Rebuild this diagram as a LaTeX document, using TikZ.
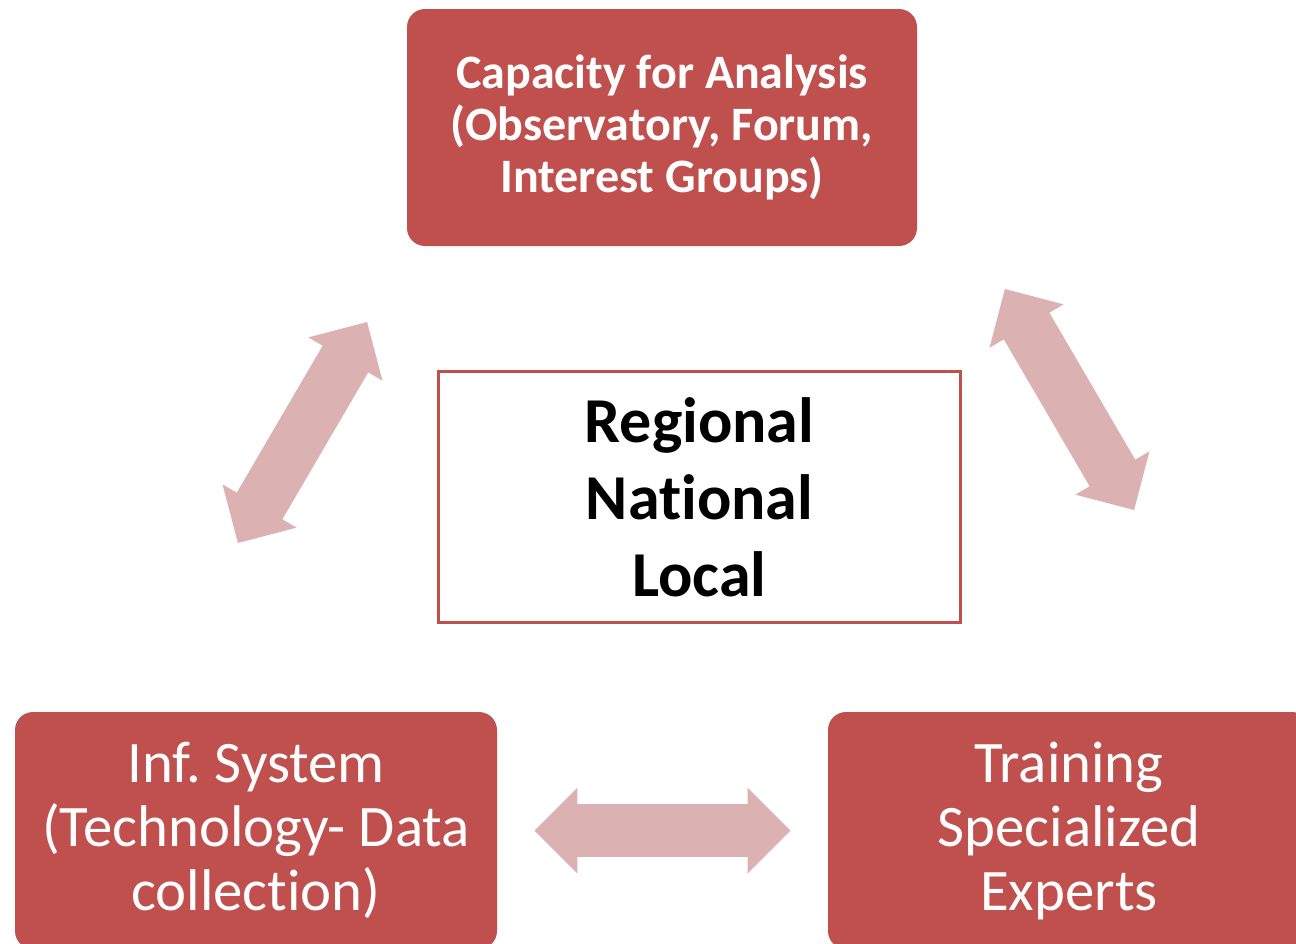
\documentclass[tikz,border=0pt]{standalone}
\usepackage{fontspec}
\setmainfont{Carlito}[Ligatures=NoCommon]
\usetikzlibrary{shapes.arrows,calc}
\definecolor{boxred}{HTML}{C0504D}
\definecolor{arrowpink}{HTML}{DBB1B1}

\begin{document}
\begin{tikzpicture}[x=0.5pt,y=-0.5pt,
    redbox/.style={fill=boxred, rounded corners=9pt, text=white, align=center,
      minimum width=241pt, minimum height=118.5pt, inner sep=0pt},
    bigtext/.style={font=\fontsize{29.4}{32}\selectfont},
    linkarrow/.style={double arrow, fill=arrowpink, inner sep=0pt,
      minimum height=128pt, minimum width=42.5pt,
      double arrow head extend=8.25pt, double arrow tip angle=90}]
    \clip (0,0) rectangle (1296,943);
    \useasboundingbox (0,0) rectangle (1296,943);
    % boxes
    \node [redbox, minimum width=255pt, font=\bfseries\fontsize{24}{26}\selectfont]
      (cap) at (662,127.5) {Capacity for Analysis\\(Observatory, Forum,\\Interest Groups)};
    \node [draw=boxred, line width=1.5pt, fill=white, minimum width=261pt, minimum height=125.5pt,
      align=center, inner sep=0pt, font=\bfseries\fontsize{32}{38.5}\selectfont]
      (levels) at (699.5,497) {Regional\\National\\Local};
    \node [redbox, bigtext] (infsys) at (256,830.5) {Inf.\ System\\(Technology- Data\\collection)};
    \node [redbox, bigtext] (training) at (1069,830.5) {Training\\Specialized\\Experts};
    % arrows
    \node [linkarrow, rotate=59.7] (arrL) at (302.5,432.5) {\rule{0pt}{26pt}};
    \node [linkarrow, rotate=-59.7] (arrR) at (1069.5,399.5) {\rule{0pt}{26pt}};
    \node [linkarrow] (arrB) at ($(infsys)!0.5!(training)$) {\rule{0pt}{26pt}};
\end{tikzpicture}
\end{document}
